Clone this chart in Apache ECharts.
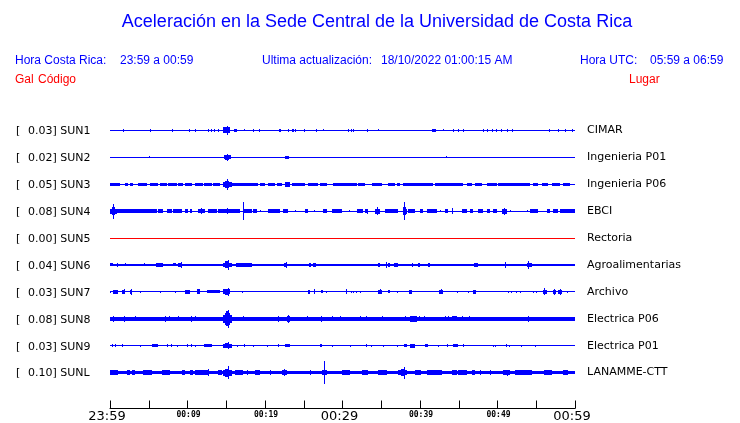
<!DOCTYPE html>
<html>
<head>
<meta charset="utf-8">
<script src="https://cdn.jsdelivr.net/npm/echarts@6/dist/echarts.min.js"></script>
<style>html,body{margin:0;padding:0;background:#fff}#c{width:740px;height:423px}</style>
</head>
<body>
<div id="c"></div>
<script>
// ---- data ----
const codes = ['SUN1','SUN2','SUN3','SUN4','SUN5','SUN6','SUN7','SUN8','SUN9','SUNL'];
const gals = ['0.03','0.02','0.05','0.08','0.00','0.04','0.03','0.08','0.03','0.10'];
const places = ['CIMAR','Ingenieria P01','Ingenieria P06','EBCI','Rectoria','Agroalimentarias','Archivo','Electrica P06','Electrica P01','LANAMME-CTT'];
// baseline noise half-amplitude (% of trace spacing)
const noiseLevels = [2,2,2,2,2,2,2,8,2,6.5];
const xTickLabels = {0:'23:59',10:'00:09',20:'00:19',30:'00:29',40:'00:39',50:'00:49',60:'00:59'};
const bigTickLabels = ['23:59','00:29','00:59'];
// events: [startMinute, endMinute, halfAmplitude(% of trace spacing)]
const SUN1 = [[1.72,1.72,5],[5.16,5.16,5],[7.96,8.17,7],[10.24,10.24,5],[10.97,10.97,5],[12.69,12.69,5],[13.03,13.03,5],[13.46,13.46,5],[13.89,13.89,5],[14.62,15.48,11],[15.05,15.05,17],[16.0,16.34,7],[17.33,17.33,4],[18.41,18.41,5],[19.27,19.27,5],[21.81,22.02,7],[23.01,23.01,5],[23.44,23.44,5],[23.66,23.66,5],[23.87,23.87,5],[25.03,25.03,5],[26.58,26.58,5],[27.44,27.44,4],[30.75,30.75,5],[31.05,31.05,5],[31.40,31.40,5],[33.12,33.12,5],[34.54,34.54,4],[41.50,42.02,7],[43.01,43.01,4],[44.30,44.30,5],[44.95,44.95,5],[45.59,45.59,5],[48.17,48.17,5],[48.69,48.69,5],[49.25,49.25,5],[49.81,49.81,5],[50.45,50.45,5],[51.18,51.18,5],[51.91,51.91,5],[56.69,56.69,5],[57.76,57.76,5],[58.71,58.71,5],[59.57,59.57,5]];
const SUN2 = [[5.08,5.08,4],[14.71,15.57,7],[14.9,15.35,9],[15.14,15.14,12],[22.58,23.10,6],[43.35,43.35,4]];
const SUN3 = [[0.0,1.29,5.5],[1.94,2.37,5.5],[2.58,3.01,5.5],[3.66,4.73,5.5],[5.16,6.24,5.5],[6.45,7.31,5.5],[7.53,8.60,5.5],[8.82,9.46,5.5],[9.68,10.54,5.5],[10.97,12.04,5.5],[12.17,13.12,5.5],[13.33,14.19,5.5],[14.62,15.70,9],[14.85,15.35,13],[15.14,15.14,20],[15.70,19.14,5.5],[19.36,20.0,5.5],[20.43,21.29,5.5],[21.51,22.15,5.5],[22.58,23.22,9],[23.44,25.16,5.5],[25.59,26.88,5.5],[27.10,27.96,5.5],[28.82,31.83,5.5],[32.04,32.90,5.5],[33.76,35.05,5.5],[35.91,36.77,5.5],[36.99,37.42,5.5],[37.85,41.72,5.5],[41.93,45.59,5.5],[46.02,46.67,5.5],[47.10,47.96,5.5],[48.60,49.89,5.5],[50.11,54.19,5.5],[54.62,55.27,5.5],[55.70,56.56,5.5],[56.99,58.06,5.5],[58.49,59.35,5.5]];
const SUN4 = [[0.0,0.86,9],[0.2,0.65,15],[0.43,0.43,28],[0.86,6.02,6.5],[6.24,6.88,6.5],[7.31,7.96,6.5],[8.17,9.33,6.5],[9.68,10.02,6.5],[10.32,10.54,6.5],[11.40,12.26,7],[11.74,11.74,11],[12.69,13.76,6.5],[13.98,15.05,6.5],[15.14,15.14,11],[15.27,16.77,6.5],[17.20,17.20,33],[17.20,18.28,7],[18.50,18.92,6.5],[19.36,19.36,5],[20.43,21.94,6.5],[22.37,23.01,6.5],[23.87,23.87,5],[25.16,25.59,6.5],[26.37,26.37,5],[27.53,27.96,6.5],[28.60,29.89,6.5],[30.88,30.88,5],[31.83,32.69,6.5],[32.90,33.33,6.5],[33.12,33.12,9],[34.19,34.84,9],[34.4,34.6,15],[35.48,37.20,6.5],[37.76,38.28,9],[37.85,38.2,15],[37.98,37.98,33],[38.49,39.35,6.5],[40.0,40.43,6.5],[40.86,42.15,6.5],[42.58,42.58,5],[43.22,43.66,6.5],[44.09,44.09,11],[45.37,46.02,6.5],[46.45,46.88,6.5],[47.53,48.17,6.5],[48.60,49.03,6.5],[49.46,49.89,6.5],[50.54,51.18,9],[50.8,50.95,13],[51.61,51.61,5],[53.76,53.76,5],[54.19,55.27,6.5],[56.34,56.77,6.5],[57.20,57.85,6.5],[58.06,60.0,6.5]];
const SUN5 = [];
const SUN6 = [[0.0,0.43,5.5],[0.95,0.95,7],[1.94,2.1,5.5],[3.14,3.14,4],[4.39,4.55,5.5],[5.89,6.88,7],[7.23,7.23,4],[8.17,8.47,5.5],[8.73,9.33,7],[9.16,9.16,11],[10.54,10.54,5],[11.40,11.40,5],[12.69,12.69,3],[14.62,15.70,9],[14.9,15.4,13],[15.18,15.18,17],[16.26,18.28,7],[18.71,18.71,5],[20.86,20.86,5],[22.15,22.15,5],[22.45,22.9,7],[22.71,22.71,11],[25.68,25.94,6],[26.24,26.54,6],[31.05,31.05,3],[34.54,34.84,6],[35.57,35.57,11],[35.91,36.13,6],[36.69,37.20,7],[37.94,37.94,5],[39.01,39.01,9],[39.78,40.0,6],[40.99,41.29,7],[41.14,41.14,9],[41.81,41.81,5],[44.52,44.52,4],[46.24,46.24,5],[47.01,47.44,6],[50.11,50.11,5],[50.97,50.97,11],[53.76,54.41,7],[53.89,53.89,15],[55.70,55.70,4],[58.84,58.84,4]];
const SUN7 = [[0.0,0.0,5],[0.43,0.99,7],[1.59,1.94,7],[1.77,1.77,9],[2.58,2.88,7],[2.75,2.75,10],[3.87,3.87,4],[6.45,6.45,4],[8.39,8.39,4],[9.68,10.32,7],[11.18,11.61,9],[12.47,14.19,6],[14.62,15.48,9],[14.9,15.3,12],[15.18,15.18,16],[16.99,17.2,5],[25.50,25.76,7],[26.28,26.28,9],[27.23,27.53,6],[27.87,27.87,4],[30.45,30.45,9],[31.10,31.10,5],[31.40,31.40,5],[31.70,31.70,5],[32.26,32.26,5],[34.62,35.14,7],[34.85,34.85,9],[35.83,36.13,6],[36.99,36.99,4],[38.58,39.01,7],[42.50,43.01,7],[42.7,42.85,9],[44.82,44.82,4],[46.24,46.24,4],[46.88,47.18,7],[51.40,51.40,5],[51.74,51.74,5],[52.38,52.38,4],[52.90,52.90,4],[54.54,54.54,4],[54.97,54.97,4],[55.91,56.34,7],[56.04,56.04,13],[57.20,57.51,7],[57.35,57.35,11],[57.76,58.28,7],[58.0,58.0,10],[58.92,58.92,4]];
const SUN8 = [[0.43,0.43,11],[1.85,1.85,11],[3.23,3.23,10],[7.10,7.10,11],[7.66,7.66,10],[8.73,8.73,10],[10.45,10.45,11],[10.97,10.97,10],[14.62,15.78,15],[14.85,15.5,22],[15.0,15.35,28],[15.18,15.18,33],[17.20,17.20,10],[21.72,21.72,11],[22.80,23.22,11],[23.01,23.01,15],[25.38,25.38,10],[27.23,27.23,12],[28.60,28.60,10],[29.68,29.68,9],[32.26,32.26,9],[33.03,33.03,9],[35.05,35.05,9],[38.06,38.06,10],[38.71,39.57,11],[39.91,39.91,10],[40.56,40.56,9],[43.22,43.22,10],[43.66,43.66,10],[44.09,44.82,10],[45.37,45.37,10],[46.32,46.32,9],[53.89,53.89,11]];
const SUN9 = [[0.22,0.22,5],[0.65,0.65,5],[1.51,1.51,5],[3.87,3.87,4],[5.38,6.24,5],[7.31,7.31,5],[7.83,7.83,5],[8.60,8.60,4],[9.89,9.89,5],[10.45,10.45,5],[10.97,10.97,4],[12.17,13.12,5],[14.62,15.70,7],[14.9,15.4,10],[15.18,15.18,14],[16.43,16.43,4],[17.33,17.33,5],[18.41,18.41,4],[20.21,20.21,4],[21.72,21.72,5],[22.58,23.22,6],[27.10,27.31,5],[28.60,28.60,4],[30.97,30.97,4],[33.08,33.08,5],[33.68,33.68,4],[35.27,35.27,4],[36.99,36.99,4],[37.94,38.37,6],[38.71,39.35,7],[40.64,40.99,5],[42.36,42.36,4],[43.44,43.66,5],[44.30,44.86,6],[45.59,45.59,5],[49.38,49.38,4],[49.68,49.68,4],[51.10,51.10,5],[51.53,51.53,4],[53.03,53.03,4],[54.84,54.84,4]];
const SUNL = [[0.0,1.08,9],[2.15,2.58,9],[2.80,3.23,9],[4.30,5.38,9],[6.67,7.74,9],[9.25,9.68,9],[10.32,10.75,9],[10.97,12.69,9],[12.69,12.69,12],[13.98,14.41,9],[14.62,15.70,11],[14.9,15.4,15],[15.18,15.18,24],[16.13,17.20,9],[17.63,17.63,9],[18.71,19.36,9],[20.65,20.65,9],[22.15,22.80,9],[22.45,22.45,13],[25.81,25.81,9],[27.31,27.96,10],[27.66,27.66,42],[29.89,30.97,9],[32.47,33.33,9],[34.62,35.70,9],[37.20,38.28,10],[37.6,38.1,14],[37.94,37.94,22],[39.35,40.13,9],[40.86,42.80,9],[44.09,44.73,9],[44.95,46.02,9],[46.67,47.10,9],[47.74,47.74,9],[49.03,49.03,9],[50.75,51.61,9],[51.18,51.18,11],[52.26,54.41,9],[55.97,56.99,9],[58.49,59.14,9]];
const traceEvents = [SUN1,SUN2,SUN3,SUN4,SUN5,SUN6,SUN7,SUN8,SUN9,SUNL];

// ---- chart ----
const BLUE = '#0000ff', RED = '#ff0000';
const traceColors = codes.map((c, i) => gals[i] === '0.00' ? RED : BLUE);
const chart = echarts.init(document.getElementById('c'), null, {renderer: 'canvas'});

function renderItem(params, api) {
  const t0 = api.value(0), t1 = api.value(1), row = api.value(2), a = api.value(3) / 100;
  const p0 = api.coord([t0, row - a]), p1 = api.coord([t1, row + a]);
  let x0 = Math.round(p0[0]), x1 = Math.round(p1[0]);
  if (x1 - x0 < 1) x1 = x0 + 1;
  let y0 = Math.round(Math.min(p0[1], p1[1])), y1 = Math.round(Math.max(p0[1], p1[1]));
  if (y1 - y0 < 1) y1 = y0 + 1;
  return {type: 'rect', shape: {x: x0, y: y0, width: x1 - x0, height: y1 - y0},
          style: {fill: traceColors[row - 1]}};
}

const series = traceEvents.map((ev, i) => {
  const row = i + 1;
  const data = [[0, 60, row, noiseLevels[i]]].concat(ev.map(e => [e[0], e[1], row, e[2]]));
  return {type: 'custom', renderItem: renderItem, data: data, encode: {x: [0, 1], y: 2},
          silent: true, animation: false, clip: false};
});

const txt = (x, y, text, opts) => Object.assign({type: 'text', x: x, y: y,
  style: Object.assign({text: text, fontFamily: 'Liberation Sans, Arial, sans-serif', fontSize: 12,
    fill: BLUE, textVerticalAlign: 'middle'}, opts || {})});

chart.setOption({
  animation: false,
  grid: {left: 110, right: 165, top: 103.5, height: 306, containLabel: false},
  xAxis: {
    type: 'value', min: 0, max: 60, interval: 5,
    axisLine: {onZero: false, lineStyle: {color: '#000', width: 1}},
    axisTick: {inside: true, length: 8, lineStyle: {color: '#000'}},
    splitLine: {show: false},
    axisLabel: {
      margin: 6, verticalAlign: 'middle', showMinLabel: true, showMaxLabel: true,
      formatter: v => {
        const l = xTickLabels[v];
        if (!l) return '';
        return bigTickLabels.indexOf(l) >= 0 ? '{big|' + l + '}' : '{small|' + l + '}';
      },
      rich: {
        big: {fontFamily: 'DejaVu Sans', fontSize: 13, color: '#000', padding: [4, 6, 0, 0]},
        small: {fontFamily: 'DejaVu Sans Mono', fontWeight: 'bold', fontSize: 8, color: '#000', padding: [1, 0, 0, 2]}
      }
    }
  },
  yAxis: [{
    type: 'value', min: 0, max: 34 / 3, interval: 1, inverse: true, position: 'left',
    axisLine: {show: false}, axisTick: {show: false}, splitLine: {show: false},
    axisLabel: {
      align: 'left', margin: 94, showMinLabel: true, showMaxLabel: true,
      formatter: v => {
        const i = Math.round(v) - 1;
        if (Math.abs(v - Math.round(v)) > 1e-6 || i < 0 || i >= codes.length) return '';
        return '{b|[}{v|' + gals[i] + '] ' + codes[i] + '}';
      },
      rich: {
        b: {width: 12, fontFamily: 'DejaVu Sans', fontSize: 11, color: '#000', padding: [2, 0, 0, 0]},
        v: {fontFamily: 'DejaVu Sans', fontSize: 11, color: '#000', padding: [2, 0, 0, 0]}
      }
    }
  }, {
    type: 'value', min: 0, max: 34 / 3, interval: 1, inverse: true, position: 'right',
    axisLine: {show: false}, axisTick: {show: false}, splitLine: {show: false},
    axisLabel: {
      align: 'left', margin: 12, fontFamily: 'DejaVu Sans', fontSize: 11, color: '#000',
      padding: [2, 0, 0, 0],
      formatter: v => {
        const i = Math.round(v) - 1;
        if (Math.abs(v - Math.round(v)) > 1e-6 || i < 0 || i >= places.length) return '';
        return places[i];
      }
    }
  }],
  series: series,
  graphic: [
    txt(377, 22, 'Aceleración en la Sede Central de la Universidad de Costa Rica', {fontSize: 18, textAlign: 'center'}),
    txt(15, 61, 'Hora Costa Rica:'),
    txt(120, 61, '23:59 a 00:59'),
    txt(262, 61, 'Ultima actualización:'),
    txt(381, 61, '18/10/2022 01:00:15 AM'),
    txt(580, 61, 'Hora UTC:'),
    txt(650, 61, '05:59 a 06:59'),
    txt(15, 80, 'Gal', {fill: RED}),
    txt(38, 80, 'Código', {fill: RED}),
    txt(629, 80, 'Lugar', {fill: RED})
  ]
});
</script>
</body>
</html>
